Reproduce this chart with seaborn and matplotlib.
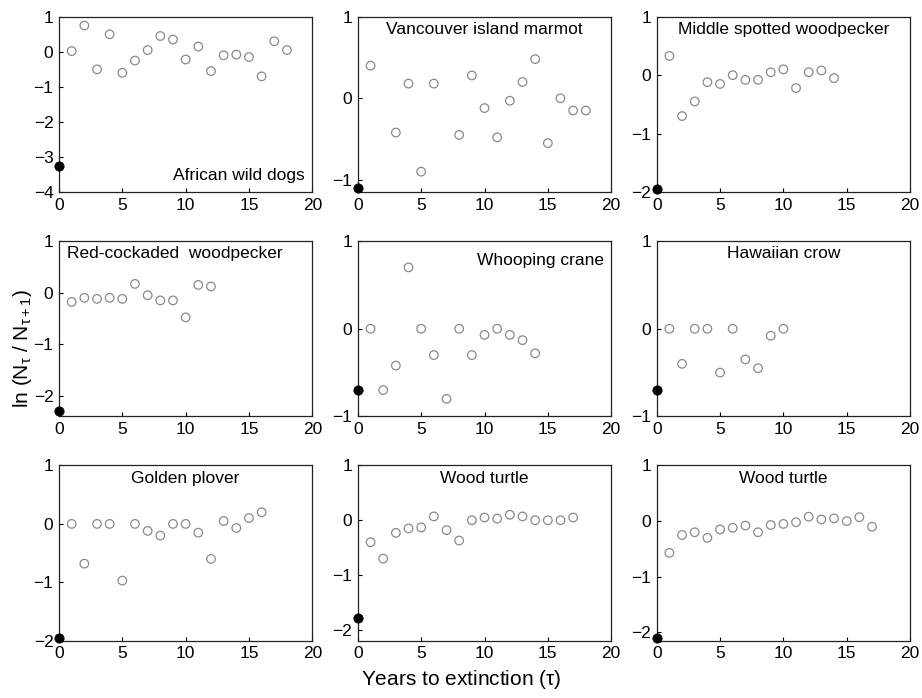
import numpy as np
import pandas as pd
import matplotlib
matplotlib.use("Agg")
import matplotlib.pyplot as plt
import seaborn as sns

# panel titles
names = ["African wild dogs", "Vancouver island marmot", "Middle spotted woodpecker",
         "Red-cockaded  woodpecker", "Whooping crane", "Hawaiian crow",
         "Golden plover", "Wood turtle", "Wood turtle"]

# years to extinction (tau) and ln(N_t / N_t+1) per species
dogs_x = [0, 1, 2, 3, 4, 5, 6, 7, 8, 9, 10, 11, 12, 13, 14, 15, 16, 17, 18]
dogs_y = [-3.25, 0.02, 0.75, -0.5, 0.5, -0.6, -0.25, 0.05, 0.45, 0.35, -0.22, 0.15,
          -0.55, -0.1, -0.08, -0.15, -0.7, 0.3, 0.05]
marmot_x = [0, 1, 3, 4, 5, 6, 8, 9, 10, 11, 12, 13, 14, 15, 16, 17, 18]
marmot_y = [-1.1, 0.4, -0.42, 0.18, -0.9, 0.18, -0.45, 0.28, -0.12, -0.48, -0.03,
            0.2, 0.48, -0.55, 0.0, -0.15, -0.15]
msw_x = [0, 1, 2, 3, 4, 5, 6, 7, 8, 9, 10, 11, 12, 13, 14]
msw_y = [-1.95, 0.33, -0.7, -0.45, -0.12, -0.15, 0.0, -0.08, -0.08, 0.05, 0.1, -0.22,
         0.05, 0.08, -0.05]
rcw_x = [0, 1, 2, 3, 4, 5, 6, 7, 8, 9, 10, 11, 12]
rcw_y = [-2.3, -0.18, -0.1, -0.12, -0.1, -0.12, 0.17, -0.05, -0.15, -0.15, -0.48,
         0.15, 0.12]
crane_x = [0, 1, 2, 3, 4, 5, 6, 7, 8, 9, 10, 11, 12, 13, 14]
crane_y = [-0.7, 0.0, -0.7, -0.42, 0.7, 0.0, -0.3, -0.8, 0.0, -0.3, -0.07, 0.0,
           -0.07, -0.13, -0.28]
crow_x = [0, 1, 2, 3, 4, 5, 6, 7, 8, 9, 10]
crow_y = [-0.7, 0.0, -0.4, 0.0, 0.0, -0.5, 0.0, -0.35, -0.45, -0.08, 0.0]
plover_x = [0, 1, 2, 3, 4, 5, 6, 7, 8, 9, 10, 11, 12, 13, 14, 15, 16]
plover_y = [-1.95, 0.0, -0.68, 0.0, 0.0, -0.97, 0.0, -0.12, -0.2, 0.0, 0.0, -0.15,
            -0.6, 0.05, -0.07, 0.1, 0.2]
turtle1_x = [0, 1, 2, 3, 4, 5, 6, 7, 8, 9, 10, 11, 12, 13, 14, 15, 16, 17]
turtle1_y = [-1.78, -0.4, -0.7, -0.23, -0.15, -0.13, 0.07, -0.18, -0.37, 0.0, 0.05,
             0.03, 0.1, 0.07, 0.0, 0.0, 0.0, 0.05]
turtle2_x = [0, 1, 2, 3, 4, 5, 6, 7, 8, 9, 10, 11, 12, 13, 14, 15, 16, 17]
turtle2_y = [-2.1, -0.57, -0.25, -0.2, -0.3, -0.15, -0.12, -0.08, -0.2, -0.07, -0.05,
             -0.02, 0.08, 0.03, 0.05, 0.0, 0.07, -0.1]

y_lims = [(-4, 1), (-1.15, 1), (-2, 1), (-2.4, 1), (-1, 1), (-1, 1),
          (-2, 1), (-2.2, 1), (-2.15, 1)]
# label placement: (x, y, ha, va) in axes fraction
label_pos = [(0.97, 0.05, "right", "bottom"), (0.5, 0.97, "center", "top"),
             (0.5, 0.97, "center", "top"), (0.03, 0.97, "left", "top"),
             (0.97, 0.93, "right", "top"), (0.5, 0.97, "center", "top"),
             (0.5, 0.97, "center", "top"), (0.5, 0.97, "center", "top"),
             (0.5, 0.97, "center", "top")]

panels = [(dogs_x, dogs_y), (marmot_x, marmot_y), (msw_x, msw_y), (rcw_x, rcw_y),
          (crane_x, crane_y), (crow_x, crow_y), (plover_x, plover_y),
          (turtle1_x, turtle1_y), (turtle2_x, turtle2_y)]

sns.set_style("ticks")
plt.rcParams["font.family"] = ["Liberation Sans", "DejaVu Sans"]
plt.rcParams["mathtext.fontset"] = "custom"
plt.rcParams["mathtext.rm"] = "Liberation Sans"
plt.rcParams["mathtext.it"] = "Liberation Sans"
plt.rcParams["text.color"] = "black"
plt.rcParams["xtick.color"] = "black"
plt.rcParams["ytick.color"] = "black"

fig, axes = plt.subplots(3, 3, figsize=(9.22, 6.98), dpi=100)
fig.subplots_adjust(left=0.064, right=0.987, top=0.976, bottom=0.082,
                    wspace=0.18, hspace=0.28)

for i, ax in enumerate(axes.flat):
    xs, ys = panels[i]
    df = pd.DataFrame({"tau": xs, "r": ys})
    sns.scatterplot(data=df[df.tau > 0], x="tau", y="r", ax=ax, marker="o",
                    s=38, facecolors="none", edgecolor="#8a8a8a", linewidth=0.9)
    sns.scatterplot(data=df[df.tau == 0], x="tau", y="r", ax=ax, marker="o",
                    s=45, color="black", edgecolor="black", clip_on=False, zorder=5)
    ax.set_xlim(0, 20)
    ax.set_ylim(*y_lims[i])
    ax.set_xticks([0, 5, 10, 15, 20])
    lo = int(np.ceil(y_lims[i][0]))
    ax.set_yticks(list(range(lo, 2)))
    ax.set_yticklabels(["\u2212" + str(-t) if t < 0 else str(t) for t in range(lo, 2)])
    ax.set_xlabel("")
    ax.set_ylabel("")
    ax.tick_params(direction="in", length=3, width=0.8, labelsize=12.5, pad=4,
                   colors="black")
    for sp in ax.spines.values():
        sp.set_visible(True)
        sp.set_linewidth(0.9)
        sp.set_color("#222222")
    lx, ly, ha, va = label_pos[i]
    ax.text(lx, ly, names[i], transform=ax.transAxes, ha=ha, va=va, fontsize=12.5,
            color="black")

fig.text(0.5, 0.01, r"Years to extinction ($\tau$)", ha="center", va="bottom",
         fontsize=15, color="black")
fig.text(0.012, 0.5, r"ln (N$_{\tau}$ / N$_{\tau+1}$)", rotation=90, ha="left",
         va="center", fontsize=15, color="black")

fig.savefig("out.png", dpi=100)
